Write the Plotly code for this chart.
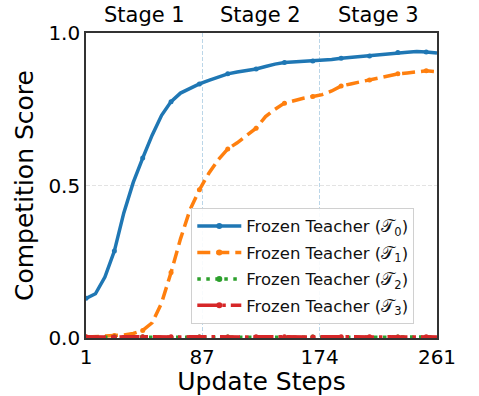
import plotly.graph_objects as go

steps = [1, 8, 15, 22, 29, 36, 43, 50, 57, 64, 71, 78, 85, 92, 99, 106, 113, 120, 127,
         134, 141, 148, 155, 162, 169, 176, 183, 190, 197, 204, 211, 218, 225, 232, 239,
         246, 253, 261]

teacher0 = [0.13, 0.145, 0.20, 0.285, 0.41, 0.51, 0.59, 0.665, 0.73, 0.775, 0.803, 0.819,
            0.833, 0.845, 0.855, 0.866, 0.872, 0.877, 0.882, 0.890, 0.898, 0.903, 0.905,
            0.907, 0.908, 0.909, 0.913, 0.917, 0.920, 0.922, 0.925, 0.929, 0.933, 0.936,
            0.937, 0.939, 0.938, 0.934]

teacher1 = [0.003, 0.004, 0.005, 0.008, 0.010, 0.015, 0.025, 0.050, 0.115, 0.215, 0.325,
            0.420, 0.486, 0.540, 0.585, 0.620, 0.640, 0.665, 0.688, 0.726, 0.750, 0.770,
            0.779, 0.786, 0.792, 0.798, 0.810, 0.826, 0.833, 0.840, 0.846, 0.853, 0.860,
            0.866, 0.869, 0.873, 0.876, 0.873]

teacher2 = [0.002, 0.003, 0.002, 0.003, 0.002, 0.002, 0.003, 0.002, 0.003, 0.002, 0.003,
            0.002, 0.003, 0.002, 0.002, 0.003, 0.002, 0.003, 0.002, 0.003, 0.002, 0.002,
            0.003, 0.002, 0.003, 0.002, 0.003, 0.002, 0.002, 0.003, 0.002, 0.003, 0.002,
            0.003, 0.002, 0.003, 0.002, 0.003]

teacher3 = [0.004, 0.003, 0.004, 0.003, 0.004, 0.003, 0.004, 0.004, 0.003, 0.004, 0.003,
            0.004, 0.003, 0.004, 0.004, 0.003, 0.004, 0.003, 0.004, 0.003, 0.004, 0.004,
            0.003, 0.004, 0.003, 0.004, 0.003, 0.004, 0.004, 0.003, 0.004, 0.003, 0.004,
            0.003, 0.004, 0.003, 0.004, 0.003]

series_names = ["Frozen Teacher (𝒯<sub>0</sub>)", "Frozen Teacher (𝒯<sub>1</sub>)",
                "Frozen Teacher (𝒯<sub>2</sub>)", "Frozen Teacher (𝒯<sub>3</sub>)"]
colors = ["#1f77b4", "#ff7f0e", "#2ca02c", "#d62728"]
dashes = ["solid", "13px,6px", "3.5px,5.5px", "20px,5px,3.5px,5px"]

stage_labels = ["Stage 1", "Stage 2", "Stage 3"]
stage_centers = [44, 130.5, 217.5]
x_ticks = [1, 87, 174, 261]
y_ticks = [0.0, 0.5, 1.0]

MARK_EVERY = 3

fig = go.Figure()
all_series = [teacher0, teacher1, teacher2, teacher3]
for i, vals in enumerate(all_series):
    grp = f"g{i}"
    fig.add_trace(go.Scatter(
        x=steps, y=vals, mode="lines", legendgroup=grp, showlegend=False,
        line=dict(color=colors[i], width=3.5, dash=dashes[i]), hoverinfo="skip"))
    fig.add_trace(go.Scatter(
        x=steps[::MARK_EVERY], y=vals[::MARK_EVERY], mode="markers", legendgroup=grp,
        showlegend=False, marker=dict(color=colors[i], size=5), hoverinfo="skip"))
    fig.add_trace(go.Scatter(
        x=[None], y=[None], mode="lines+markers", name=series_names[i], legendgroup=grp,
        line=dict(color=colors[i], width=3.5, dash=dashes[i]),
        marker=dict(color=colors[i], size=6)))

for lbl, cx in zip(stage_labels, stage_centers):
    fig.add_annotation(x=cx, xref="x", y=1.058, yref="paper", text=lbl, showarrow=False,
                       font=dict(size=21, color="black"), xanchor="center", yanchor="middle")

font_family = "DejaVu Sans"
fig.update_layout(
    width=479, height=396,
    margin=dict(l=86, r=42, t=33, b=58, autoexpand=False),
    paper_bgcolor="white", plot_bgcolor="white",
    font=dict(family=font_family, color="black"),
    showlegend=True,
    legend=dict(
        x=0.30, y=0.427, xanchor="left", yanchor="top",
        bgcolor="rgba(255,255,255,0.9)", bordercolor="#d0d0d0", borderwidth=1,
        font=dict(size=16.5, color="#111111"), traceorder="grouped", tracegroupgap=2,
        itemwidth=44),
    xaxis=dict(
        range=[1, 261], tickvals=x_ticks, ticktext=[str(v) for v in x_ticks],
        tickfont=dict(size=20), ticks="", showline=True, linecolor="#333333",
        linewidth=1.6, mirror=True, showgrid=True, gridcolor="rgba(31,119,180,0.3)",
        griddash="4px,2px", gridwidth=1, zeroline=False, automargin=False,
        title=dict(text="Update Steps", font=dict(size=25), standoff=6)),
    yaxis=dict(
        range=[0, 1], tickvals=y_ticks, ticktext=["0.0", "0.5", "1.0"],
        tickfont=dict(size=20), ticks="", showline=True, linecolor="#333333",
        linewidth=1.6, mirror=True, showgrid=True, gridcolor="#e3e3e3",
        griddash="4px,2px", gridwidth=1, zeroline=False, automargin=False,
        title=dict(text="Competition Score", font=dict(size=25), standoff=8)),
)

fig.write_html("out.html")
